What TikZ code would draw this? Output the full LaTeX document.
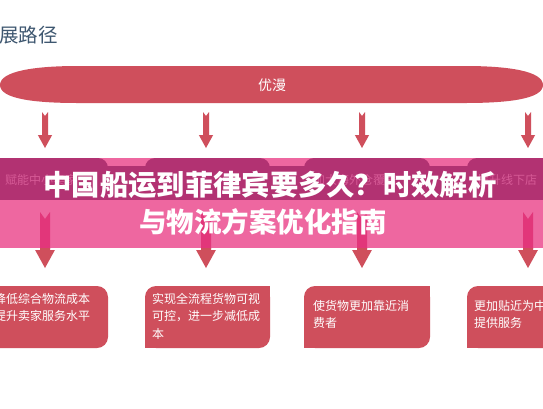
\documentclass[tikz,border=0pt]{standalone}
\usepackage{fontspec}
\setmainfont{Noto Sans CJK SC}
\definecolor{barred}{HTML}{CF4F5C}
\definecolor{titleblue}{HTML}{3E5770}
\definecolor{bandpink}{HTML}{EE67A0}
\definecolor{stripmag}{HTML}{B23272}
\definecolor{faintpink}{HTML}{D65A96}
\definecolor{bandarrow}{HTML}{E2367A}
\newcommand{\notcharrow}[7]{%
  \fill[#7] (#1-#3,#2) -- (#1,#2+#4) -- (#1+#3,#2) -- (#1+#3,#5-#6) -- (#1+#6*0.55,#5-#6) -- (#1,#5) -- (#1-#6*0.55,#5-#6) -- (#1-#3,#5-#6) -- cycle;}
\tikzset{
  boxtext/.style={text=white, font=\fontsize{12}{17.5}\selectfont, align=left, inner sep=0pt, anchor=north west},
  fainttext/.style={text=faintpink, font=\fontsize{12}{14}\selectfont, inner sep=0pt, anchor=west},
  bigtitle/.style={text=white, font=\fontsize{27.5}{30}\selectfont\bfseries, inner sep=0pt}
}
\begin{document}
\begin{tikzpicture}[x=1pt,y=-1pt]
\useasboundingbox (0,0) rectangle (543,408);
\clip (0,0) rectangle (543,408);
\fill[white] (0,0) rectangle (543,408);
% heading
\node[text=titleblue, font=\fontsize{19.5}{22}\selectfont, inner sep=0pt, anchor=west] (head) at (-1,35) {展路径};
% red bar
\fill[barred] (0,85) .. controls (0,71) and (35,66) .. (78,66) -- (465,66) .. controls (508,66) and (543,71) .. (543,85)
  .. controls (543,99) and (508,103) .. (465,103) -- (78,103) .. controls (35,103) and (0,99) .. (0,85) -- cycle;
\node[text=white, font=\fontsize{14}{16}\selectfont, inner sep=0pt] (bar) at (272,85) {优漫};
% first row arrows
\foreach \c in {45,206,362,528} {\notcharrow{\c}{112}{3}{4}{148}{13}{barred}}
% bottom boxes
\foreach \a/\b in {-20/108,145/270,304/430,467/563} {
  \fill[barred, rounded corners=11pt] (\a,286) rectangle (\b,348);
}
% square corners
\fill[barred] (145,337) rectangle (156,348);
\fill[barred] (259,286) rectangle (270,297);
\fill[barred] (304,337) rectangle (315,348);
\fill[barred] (419,286) rectangle (430,297);
\fill[barred] (467,337) rectangle (478,348);
% pink band
\fill[bandpink] (0,158) rectangle (543,248);
\fill[stripmag] (0,166) rectangle (543,200);
\foreach \a/\b in {-20/108,145/270,304/430,467/563} {
  \fill[stripmag, rounded corners=10pt] (\a,158) rectangle (\b,190);
}
\node[fainttext] (m1) at (5,180) {赋能中小卖家};
\node[fainttext] (m3) at (313,180) {加大海外仓覆盖};
\node[fainttext] (m4) at (477,180) {提升线下店};
% second row arrows
\begin{scope}
  \clip (0,0) rectangle (543,248);
  \foreach \c in {45,206,362,528} {\notcharrow{\c}{212}{5}{7}{268}{18}{bandarrow}}
\end{scope}
\begin{scope}
  \clip (0,248) rectangle (543,408);
  \foreach \c in {45,206,362,528} {\notcharrow{\c}{212}{5}{7}{268}{18}{barred}}
\end{scope}
% bottom texts
\node[boxtext] (b1) at (-6,293) {降低综合物流成本\\提升卖家服务水平};
\node[boxtext] (b2) at (152,293) {实现全流程货物可视\\可控，进一步减低成\\本};
\node[boxtext] (b3) at (313,300) {使货物更加靠近消\\费者};
\node[boxtext] (b4) at (474,300) {更加贴近为中小卖家\\提供服务};
% overlay title
\node[bigtitle, font=\fontsize{28.3}{30}\selectfont\bfseries] (t1) at (270,185) {中国船运到菲律宾要多久？时效解析};
\node[bigtitle] (t2) at (263,222) {与物流方案优化指南};
\end{tikzpicture}
\end{document}
